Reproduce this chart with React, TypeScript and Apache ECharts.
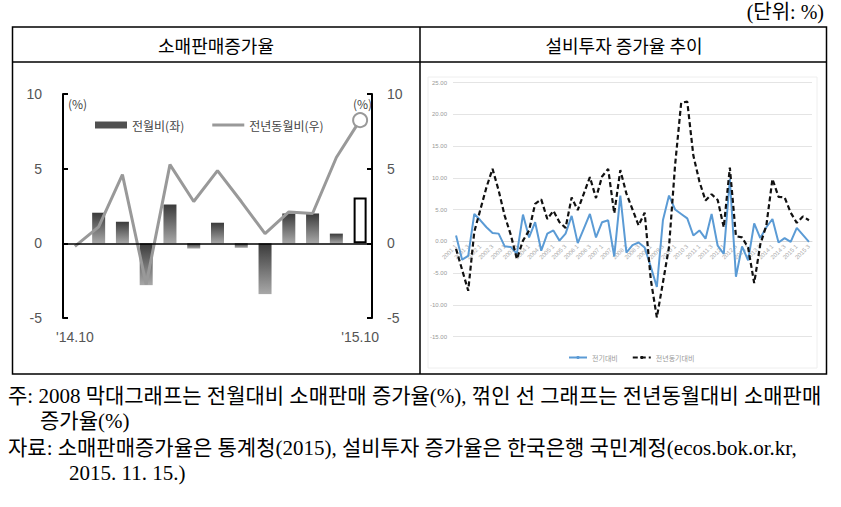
import React, { useEffect, useRef } from "react";
import * as echarts from "echarts";

// ---- Left panel: 소매판매증가율 ----
const leftCategories = ["'14.10", "'14.11", "'14.12", "'15.1", "'15.2", "'15.3", "'15.4", "'15.5", "'15.6", "'15.7", "'15.8", "'15.9", "'15.10"];
const momChange = [null, 2.05, 1.45, -2.8, 2.6, -0.35, 1.38, -0.3, -3.4, 2.0, 2.0, 0.65, 3.07];
const yoyChange = [-0.2, 1.1, 4.6, -2.75, 5.27, 2.8, 4.87, 2.8, 0.65, 2.1, 2.0, 5.75, 8.25];
const leftTicks = [-5, 0, 5, 10];

// ---- Right panel: 설비투자 증가율 추이 ----
const quarterCategories = [
  "2001 1", "2001 2", "2001 3", "2001 4", "2002 1", "2002 2", "2002 3", "2002 4",
  "2003 1", "2003 2", "2003 3", "2003 4", "2004 1", "2004 2", "2004 3", "2004 4",
  "2005 1", "2005 2", "2005 3", "2005 4", "2006 1", "2006 2", "2006 3", "2006 4",
  "2007 1", "2007 2", "2007 3", "2007 4", "2008 1", "2008 2", "2008 3", "2008 4",
  "2009 1", "2009 2", "2009 3", "2009 4", "2010 1", "2010 2", "2010 3", "2010 4",
  "2011 1", "2011 2", "2011 3", "2011 4", "2012 1", "2012 2", "2012 3", "2012 4",
  "2013 1", "2013 2", "2013 3", "2013 4", "2014 1", "2014 2", "2014 3", "2014 4",
  "2015 1", "2015 2", "2015 3",
];
const qoqInvest = [
  0.9, -2.9, -2.3, 4.3, 3.3, 2.2, 1.3, 1.2, -0.8, -0.9,
  -2.0, 4.2, 0.6, 3.0, -1.5, 1.2, 1.7, 0.1, 1.2, 4.0,
  -0.3, 2.0, 4.3, 0.6, 3.0, 3.3, -2.4, 7.2, -1.8, -0.6,
  -0.2, -1.0, -4.0, -7.2, 3.3, 7.2, 5.0, 4.3, 3.6, 0.9,
  1.7, 0.4, 4.3, -0.7, -2.0, 9.8, -5.6, -0.8, -3.0, 2.8,
  0.5, 2.2, 3.5, -0.2, 0.5, -0.1, 2.1, 1.0, -0.1,
];
const yoyInvest = [
  -1.2, -4.5, -7.8, 1.5, 5.0, 8.5, 11.4, 8.0, 4.0, 1.0,
  -2.8, 0.1, 1.7, 5.9, 6.6, 3.5, 4.8, 3.0, 2.1, 6.9,
  4.9, 7.5, 10.1, 6.8, 10.2, 11.4, 4.4, 11.2, 7.5, 5.0,
  2.5, 4.5, -6.0, -12.0, -6.5, -0.9, 12.0, 21.8, 22.0, 13.5,
  9.4, 6.4, 7.4, 6.5, 2.2, 11.6, 0.8, 0.6, -1.0, -6.6,
  -0.5, 2.5, 9.8, 7.0, 6.9, 4.5, 2.9, 3.9, 3.3,
];

const noteLines = [
  "주: 2008 막대그래프는 전월대비 소매판매 증가율(%), 꺾인 선 그래프는 전년동월대비 소매판매",
  "증가율(%)",
  "자료: 소매판매증가율은 통계청(2015), 설비투자 증가율은 한국은행 국민계정(ecos.bok.or.kr,",
  "2015. 11. 15.)",
];

const KR = "'Noto Sans CJK KR', sans-serif";
const SERIF = "'Liberation Serif', 'Noto Sans CJK KR', serif";

function txt(text: string, x: number, y: number, font: string, fill: string, align = "left") {
  return {
    type: "text",
    x,
    y,
    silent: true,
    style: {
      text,
      font,
      fill,
      textAlign: align,
      align,
      textVerticalAlign: "middle",
      verticalAlign: "middle",
    },
  };
}

export default function App() {
  const ref = useRef<HTMLDivElement>(null);

  useEffect(() => {
    const chart = echarts.init(ref.current!, null, { renderer: "svg" });
    const barGrad = new echarts.graphic.LinearGradient(0, 0, 0, 1, [
      { offset: 0, color: "#3a3a3a" },
      { offset: 1, color: "#a8a8a8" },
    ]);
    const lastL = leftCategories.length - 1;

    const option: any = {
      animation: false,
      backgroundColor: "#ffffff",
      grid: [
        { left: 63, right: 469, top: 94, bottom: 189 },
        { left: 453, right: 29, top: 82.5, bottom: 170.5 },
      ],
      legend: [
        {
          left: 90,
          top: 114,
          itemWidth: 32,
          itemHeight: 7,
          itemGap: 28,
          textStyle: { fontSize: 12, color: "#444", fontFamily: KR },
          data: [
            { name: "전월비(좌)", icon: "rect", itemStyle: { color: "#505050" } },
            { name: "전년동월비(우)", icon: "path://M0,0L34,0L34,3L0,3Z", itemStyle: { color: "#999" } },
          ],
        },
        {
          left: 563,
          top: 349,
          itemWidth: 18,
          itemHeight: 4,
          itemGap: 14,
          textStyle: { fontSize: 7, color: "#999", fontFamily: KR },
          data: ["전기대비", "전년동기대비"],
        },
      ],
      xAxis: [
        {
          gridIndex: 0,
          type: "category",
          data: leftCategories,
          axisLine: { show: false },
          axisTick: { show: false },
          axisLabel: {
            interval: 0,
            formatter: (v: string, i: number) => (i === 0 || i === lastL ? v : ""),
            color: "#555",
            fontSize: 14,
            fontFamily: "Arial, 'Liberation Sans'",
            margin: 12,
          },
        },
        {
          gridIndex: 1,
          type: "category",
          position: "bottom",
          offset: -95,
          data: quarterCategories,
          axisLine: { show: true, onZero: false, lineStyle: { color: "#d9d9d9", width: 1 } },
          axisTick: { show: false },
          axisLabel: { interval: 1, rotate: 45, fontSize: 6, color: "#aaa", margin: 4 },
        },
      ],
      yAxis: [
        {
          gridIndex: 0,
          type: "value",
          min: leftTicks[0],
          max: leftTicks[leftTicks.length - 1],
          interval: 5,
          axisLine: { show: true, lineStyle: { color: "#000", width: 2 } },
          axisTick: { show: true, inside: true, length: 5, lineStyle: { color: "#000", width: 2 } },
          splitLine: { show: false },
          axisLabel: { color: "#555", fontSize: 14, margin: 21, fontFamily: "Arial, 'Liberation Sans'" },
        },
        {
          gridIndex: 0,
          type: "value",
          position: "right",
          min: leftTicks[0],
          max: leftTicks[leftTicks.length - 1],
          interval: 5,
          axisLine: { show: true, lineStyle: { color: "#000", width: 2 } },
          axisTick: { show: true, inside: true, length: 5, lineStyle: { color: "#000", width: 2 } },
          splitLine: { show: false },
          axisLabel: { color: "#555", fontSize: 14, margin: 15, fontFamily: "Arial, 'Liberation Sans'" },
        },
        {
          gridIndex: 1,
          type: "value",
          min: -15,
          max: 25,
          interval: 5,
          axisLine: { show: false },
          axisTick: { show: false },
          splitLine: { lineStyle: { color: "#e4e4e4", width: 1 } },
          axisLabel: { formatter: (v: number) => v.toFixed(2), fontSize: 6, color: "#999", margin: 6 },
        },
      ],
      series: [
        {
          name: "전월비(좌)",
          type: "bar",
          xAxisIndex: 0,
          yAxisIndex: 0,
          barWidth: 13,
          itemStyle: { color: barGrad },
          data: momChange.map((v, i) =>
            i === lastL
              ? { value: v, itemStyle: { color: "#ffffff", borderColor: "#000", borderWidth: 2 } }
              : v
          ),
          markLine: {
            silent: true,
            symbol: "none",
            label: { show: false },
            lineStyle: { color: "#000", width: 1.5, type: "solid" },
            data: [{ yAxis: 0 }],
          },
          z: 2,
        },
        {
          name: "전년동월비(우)",
          type: "line",
          xAxisIndex: 0,
          yAxisIndex: 1,
          symbol: "none",
          lineStyle: { color: "#999", width: 3 },
          itemStyle: { color: "#999" },
          data: yoyChange.map((v, i) =>
            i === lastL
              ? {
                  value: v,
                  symbol: "circle",
                  symbolSize: 14,
                  itemStyle: { color: "#ffffff", borderColor: "#999", borderWidth: 2 },
                }
              : v
          ),
          z: 3,
        },
        {
          name: "전기대비",
          type: "line",
          xAxisIndex: 1,
          yAxisIndex: 2,
          symbol: "none",
          lineStyle: { color: "#5b9bd5", width: 2 },
          itemStyle: { color: "#5b9bd5" },
          data: qoqInvest,
          z: 3,
        },
        {
          name: "전년동기대비",
          type: "line",
          xAxisIndex: 1,
          yAxisIndex: 2,
          symbol: "none",
          lineStyle: { color: "#111", width: 2.2, type: [5, 3] },
          itemStyle: { color: "#111" },
          data: yoyInvest,
          z: 4,
        },
      ],
      graphic: [
        {
          type: "rect",
          silent: true,
          shape: { x: 12.5, y: 27, width: 814, height: 347 },
          style: { fill: "none", stroke: "#000", lineWidth: 1.5 },
        },
        {
          type: "line",
          silent: true,
          shape: { x1: 12.5, y1: 62, x2: 826.5, y2: 62 },
          style: { stroke: "#000", lineWidth: 1.5 },
        },
        {
          type: "line",
          silent: true,
          shape: { x1: 420, y1: 27, x2: 420, y2: 374 },
          style: { stroke: "#000", lineWidth: 1.5 },
        },
        {
          type: "rect",
          silent: true,
          shape: { x: 428, y: 77, width: 389, height: 291 },
          style: { fill: "none", stroke: "#eeeeee", lineWidth: 1 },
        },
        txt("(단위: %)", 824, 12, `20px ${SERIF}`, "#000", "right"),
        txt("소매판매증가율", 216, 45, `18px ${KR}`, "#000", "center"),
        txt("설비투자 증가율 추이", 624, 45, `18px ${KR}`, "#000", "center"),
        txt("(%)", 68, 103, `12px ${KR}`, "#444", "left"),
        txt("(%)", 353, 103, `12px ${KR}`, "#444", "left"),
        txt(noteLines[0], 8, 396, `21px ${SERIF}`, "#000", "left"),
        txt(noteLines[1], 40, 421, `21px ${SERIF}`, "#000", "left"),
        txt(noteLines[2], 8, 448, `21px ${SERIF}`, "#000", "left"),
        txt(noteLines[3], 69, 473, `21px ${SERIF}`, "#000", "left"),
      ],
    };

    chart.setOption(option);
    return () => chart.dispose();
  }, []);

  return (
    <div
      ref={ref}
      style={{ position: "absolute", left: 0, top: 0, width: 841, height: 507, background: "#fff" }}
    />
  );
}
